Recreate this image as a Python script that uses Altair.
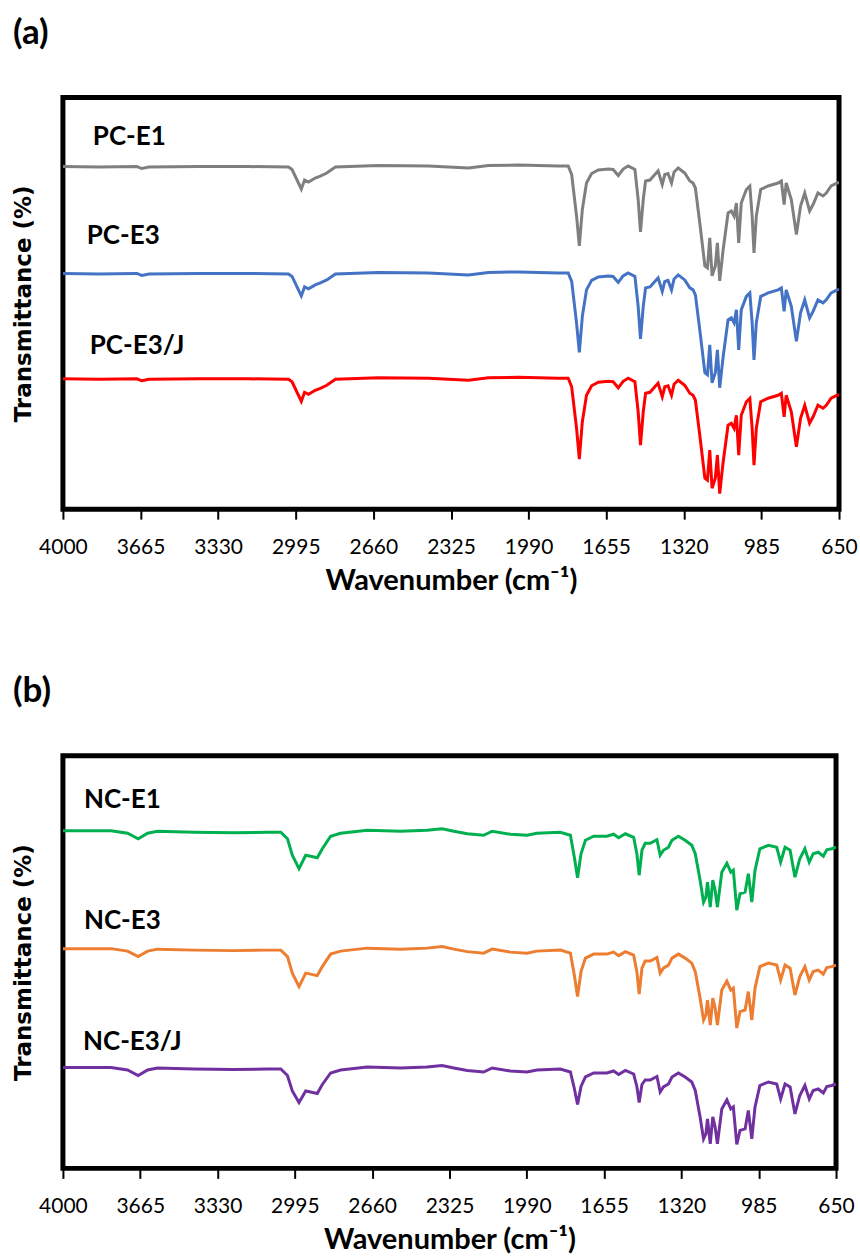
import altair as alt
import pandas as pd

TICKS = [4000, 3665, 3330, 2995, 2660, 2325, 1990, 1655, 1320, 985, 650]

# ---------------- panel (a) ----------------
WN_A = [4000, 3845, 3681, 3659, 3629, 3414, 3198, 3026, 3011, 2971, 2957, 2940, 2911, 2889, 2861, 2824,
        2638, 2422, 2250, 2163, 2034, 1862, 1819, 1804, 1783, 1771, 1758, 1740, 1718, 1689, 1646, 1625,
        1603, 1582, 1560, 1531, 1517, 1507, 1495, 1485, 1466, 1445, 1431, 1413, 1402, 1388, 1373, 1362,
        1344, 1316, 1294, 1280, 1270, 1251, 1229, 1218, 1208, 1198, 1184, 1175, 1165, 1150, 1129, 1115,
        1103, 1093, 1083, 1072, 1050, 1035, 1025, 1017, 1007, 988, 956, 913, 899, 887, 878, 856,
        834, 816, 798, 777, 762, 741, 719, 705, 684, 658, 650]
PC_E1 = [345, 344.5, 345, 343, 344.5, 345, 345, 344.5, 342, 322.5, 331.5, 329.5, 333.5, 335.5, 338.5, 344.5,
         346, 345.5, 343.5, 346, 346.5, 345.5, 345.5, 337, 295.5, 265.5, 302, 328.5, 338, 341.5, 342.5, 342,
         336, 342.5, 345.5, 342, 312, 279.5, 312, 330.5, 331.5, 337, 340.5, 327, 337, 338, 328.5, 339.5,
         343.5, 338.5, 330.5, 328.5, 323.5, 288.5, 245.5, 243.5, 273.5, 235.5, 245.5, 268.5, 230.5, 262, 298.5, 300.5,
         295.5, 308.5, 268.5, 308.5, 322, 325.5, 295.5, 258.5, 295.5, 322, 325.5, 328.5, 330.5, 307, 328.5, 312,
         277, 305.5, 318.5, 300.5, 307, 318.5, 315.5, 318.5, 325.5, 328.5, 329]
PC_E3 = [238, 237.5, 238, 236, 237.5, 238, 238, 237.5, 235, 215.5, 224.5, 222.5, 226.5, 228.5, 231.5, 237.5,
         239, 238.5, 236.5, 239, 239.5, 238.5, 238.5, 230, 188.5, 159, 195, 221.5, 231, 234.5, 235.5, 235,
         229, 235.5, 238.5, 235, 205, 172.5, 205, 223.5, 224.5, 230, 233.5, 220, 230, 231, 221.5, 232.5,
         236.5, 231.5, 223.5, 221.5, 216.5, 181.5, 138.5, 136.5, 166.5, 128.5, 138.5, 161.5, 123.5, 155, 191.5, 193.5,
         188.5, 201.5, 161.5, 201.5, 215, 218.5, 188.5, 151.5, 188.5, 215, 218.5, 221.5, 223.5, 200, 221.5, 205,
         170, 198.5, 211.5, 193.5, 200, 211.5, 208.5, 211.5, 218.5, 221.5, 222]
PC_E3J = [132.5, 132, 132.5, 130.5, 132, 132.5, 132.5, 132, 129.5, 110, 119, 117, 121, 123, 126, 132,
          133.5, 133, 131, 133.5, 134, 133, 133, 124.5, 83, 52, 89.5, 116, 125.5, 129, 130, 129.5,
          123.5, 130, 133, 129.5, 99.5, 66, 99.5, 118, 119, 124.5, 128, 114.5, 124.5, 125.5, 116, 127,
          131, 126, 118, 116, 111, 76, 33, 31, 61, 23, 33, 56, 17.5, 49.5, 86, 88,
          83, 96, 56, 96, 109.5, 113, 83, 46, 83, 109.5, 113, 116, 118, 94.5, 116, 99.5,
          64.5, 93, 106, 88, 94.5, 106, 103, 106, 113, 116, 116.5]

# ---------------- panel (b) ----------------
WN_B = [4000, 3792, 3720, 3674, 3633, 3590, 3432, 3259, 3114, 3056, 3027, 3006, 2977, 2948, 2927, 2898,
        2876, 2840, 2797, 2681, 2537, 2422, 2357, 2306, 2248, 2177, 2140, 2061, 1989, 1946, 1845, 1801,
        1784, 1770, 1755, 1736, 1700, 1643, 1614, 1592, 1563, 1527, 1513, 1503, 1491, 1477, 1455, 1426,
        1412, 1398, 1376, 1361, 1333, 1304, 1275, 1260, 1239, 1224, 1214, 1207, 1195, 1184, 1174, 1164,
        1145, 1123, 1106, 1095, 1080, 1066, 1044, 1030, 1015, 1001, 980, 943, 907, 890, 871, 849,
        828, 807, 785, 766, 749, 727, 705, 690, 669, 650]
NC_E1 = [338, 338, 335.5, 330, 335.5, 337.5, 336.5, 336, 336.5, 336.5, 330, 313.5, 300, 313.5, 312.5, 311,
         320, 332.5, 335.5, 338.5, 337.5, 338.5, 340, 337.5, 335, 333.5, 337.5, 334.5, 333.5, 335.5, 336.5, 333.5,
         311.5, 291, 315, 328.5, 332.5, 332.5, 334.5, 331, 335, 331.5, 315, 293.5, 318.5, 325.5, 325.5, 329,
         313.5, 318.5, 321.5, 328.5, 332.5, 328.5, 323.5, 315, 288.5, 266.5, 271.5, 286.5, 261.5, 288.5, 278.5, 261.5,
         296.5, 305.5, 296.5, 298.5, 258.5, 275, 276.5, 295, 266.5, 298.5, 320, 323.5, 321.5, 306.5, 321.5, 318.5,
         291.5, 310, 320, 306.5, 315, 316.5, 312.5, 319, 320, 321.5]
NC_E3 = [220, 220, 217.5, 212, 217.5, 219.5, 218.5, 218, 218.5, 218.5, 212, 195.5, 182, 195.5, 194.5, 193,
         202, 214.5, 217.5, 220.5, 219.5, 220.5, 222, 219.5, 217, 215.5, 219.5, 216.5, 215.5, 217.5, 218.5, 215.5,
         193.5, 172, 197, 210.5, 214.5, 214.5, 216.5, 213, 217, 213.5, 197, 174.5, 200.5, 207.5, 207.5, 211,
         195.5, 200.5, 203.5, 210.5, 214.5, 210.5, 205.5, 197, 170.5, 148.5, 153.5, 168.5, 143.5, 170.5, 160.5, 143.5,
         178.5, 187.5, 178.5, 180.5, 140.5, 157, 158.5, 177, 148.5, 180.5, 202, 205.5, 203.5, 188.5, 203.5, 200.5,
         173.5, 192, 202, 188.5, 197, 198.5, 194.5, 201, 202, 203.5]
NC_E3J = [101, 101, 98.5, 93, 98.5, 100.5, 99.5, 99, 99.5, 99.5, 93, 77.5, 66, 77.5, 76.5, 75,
          84, 95.5, 98.5, 101.5, 100.5, 101.5, 103, 100.5, 98, 96.5, 100.5, 97.5, 96.5, 98.5, 99.5, 96.5,
          80, 64, 82, 91.5, 95.5, 95.5, 97.5, 94, 98, 94.5, 82, 66, 84, 88.5, 88.5, 92,
          76.5, 81.5, 84.5, 91.5, 95.5, 91.5, 86.5, 78, 51.5, 29.5, 34.5, 49.5, 24.5, 51.5, 41.5, 24.5,
          59.5, 68.5, 59.5, 61.5, 24, 38, 39.5, 58, 29.5, 61.5, 83, 86.5, 84.5, 69.5, 84.5, 81.5,
          54.5, 73, 83, 69.5, 78, 79.5, 75.5, 82, 83, 84.5]

SERIES_A = ["PC-E1", "PC-E3", "PC-E3/J"]
COLORS_A = ["#7f7f7f", "#4472c4", "#ff0000"]
SERIES_B = ["NC-E1", "NC-E3", "NC-E3/J"]
COLORS_B = ["#00b050", "#ed7d31", "#7030a0"]

LABEL_WN_A = [3871, 3897, 3884]
LABEL_T_A = [375, 275, 165]
LABEL_WN_B = [3909, 3909, 3913]
LABEL_T_B = [369, 248, 127]

FONT = "Lato"


def spectra_frame(wn, names, arrays):
    rows = []
    for name, arr in zip(names, arrays):
        for w, t in zip(wn, arr):
            rows.append({"wavenumber": w, "T": t, "sample": name})
    return pd.DataFrame(rows)


def label_frame(names, wns, ts):
    return pd.DataFrame({"label": names, "wavenumber": wns, "T": ts})


def panel(df, lab, names, colors, ydom, w, h, letter):
    x = alt.X("wavenumber:Q",
              scale=alt.Scale(domain=[4000, 650], nice=False, zero=False),
              axis=alt.Axis(values=TICKS, format="d", title="Wavenumber (cm⁻¹)"))
    y = alt.Y("T:Q",
              scale=alt.Scale(domain=ydom, nice=False, zero=False),
              axis=alt.Axis(title="Transmittance (%)", labels=False, ticks=False,
                            domain=False, grid=False))
    lines = alt.Chart(df).mark_line(strokeWidth=3, clip=True).encode(
        x=x, y=y,
        color=alt.Color("sample:N", scale=alt.Scale(domain=names, range=colors), legend=None),
    )
    text = alt.Chart(lab).mark_text(
        align="left", baseline="middle", font=FONT, fontSize=26,
        fontWeight="bold", color="black"
    ).encode(x=x, y=y, text="label:N")
    return alt.layer(lines, text).properties(
        width=w, height=h,
        title=alt.TitleParams(letter, anchor="start", frame="bounds", font=FONT,
                              fontSize=35, fontWeight="bold", color="black", offset=47),
    )


df_a = spectra_frame(WN_A, SERIES_A, [PC_E1, PC_E3, PC_E3J])
df_b = spectra_frame(WN_B, SERIES_B, [NC_E1, NC_E3, NC_E3J])
lab_a = label_frame(SERIES_A, LABEL_WN_A, LABEL_T_A)
lab_b = label_frame(SERIES_B, LABEL_WN_B, LABEL_T_B)

pa = panel(df_a, lab_a, SERIES_A, COLORS_A, [2, 414], 777, 412, "(a)")
pb = panel(df_b, lab_b, SERIES_B, COLORS_B, [0, 413], 774, 413, "(b)")

chart = alt.vconcat(pa, pb, spacing=73).resolve_scale(
    color="independent"
).properties(
    padding={"left": 10, "top": 12, "right": 0, "bottom": 0},
    background="white",
).configure_view(
    stroke="black", strokeWidth=5
).configure_axisX(
    labelFont=FONT, labelFontSize=21, labelColor="black", labelFlush=False,
    labelOverlap=False, labelPadding=17, tickColor="black", tickWidth=2, tickSize=10,
    domain=False, grid=False, titleFont=FONT, titleFontSize=29, titleFontWeight="bold",
    titleColor="black", titlePadding=9,
).configure_axisY(
    titleFont="DejaVu Sans", titleFontSize=23, titleFontWeight="bold",
    titleColor="black", titlePadding=27,
)

chart.save("out.html", embed_options={"renderer": "svg", "actions": False})
